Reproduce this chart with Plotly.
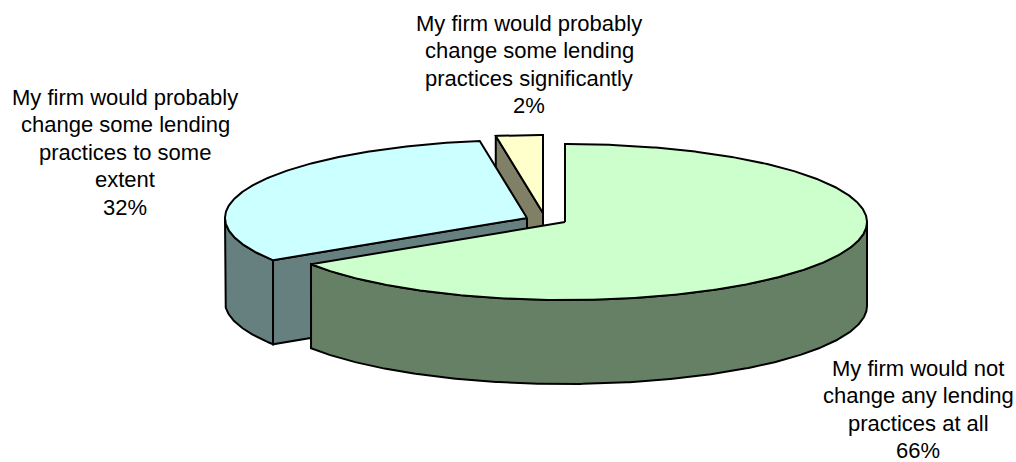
import math
import plotly.graph_objects as go

categories = ["My firm would not change any lending practices at all",
              "My firm would probably change some lending practices to some extent",
              "My firm would probably change some lending practices significantly"]
shares = [65.9, 31.6, 2.5]
shown_percent = ["66%", "32%", "2%"]
label_lines = [["My firm would not", "change any lending", "practices at all"],
               ["My firm would probably", "change some lending", "practices to some", "extent"],
               ["My firm would probably", "change some lending", "practices significantly"]]

RX, RY, DEPTH = 302, 78, 84
centers = [(565, 222), (527, 218), (543, 213)]
label_pos = [(918, 368), (125, 97), (529, 23)]
LINE_H = 27.5
FONT = "Liberation Sans, Arial, sans-serif"
tops = ["#CCFFCC", "#CCFFFF", "#FFFFCC"]
sides = ["#668066", "#668080", "#808066"]

def pt(c, deg, drop=0):
    r = math.radians(deg)
    return c[0] + RX * math.sin(r), c[1] - RY * math.cos(r) + drop

def arc(c, a, b, drop=0):
    n = max(2, int(abs(b - a) * 2))
    return [pt(c, a + (b - a) * i / n, drop) for i in range(n + 1)]

def poly(points, color):
    xs, ys = zip(*points)
    return go.Scatter(x=list(xs) + [xs[0]], y=list(ys) + [ys[0]], mode="lines", fill="toself",
                      fillcolor=color, line=dict(color="black", width=2),
                      hoverinfo="skip", showlegend=False)

# slice angles, clockwise from 12 o'clock
starts, a = [], 0.0
for s in shares:
    starts.append(a)
    a += s * 3.6
ends = [st + s * 3.6 for st, s in zip(starts, shares)]

fig = go.Figure()
g, b, y = centers

def radial_wall(c, deg):
    return [c, pt(c, deg), pt(c, deg, DEPTH), (c[0], c[1] + DEPTH)]

# yellow slice
fig.add_trace(poly(radial_wall(y, starts[2]), sides[2]))
fig.add_trace(poly([y] + arc(y, starts[2], ends[2]), tops[2]))
# blue slice
fig.add_trace(poly(arc(b, starts[1], 270) + arc(b, 270, starts[1], DEPTH), sides[1]))
fig.add_trace(poly(radial_wall(b, starts[1]), sides[1]))
fig.add_trace(poly([b] + arc(b, starts[1], ends[1]), tops[1]))
# green slice
fig.add_trace(poly(arc(g, 90, ends[0]) + arc(g, ends[0], 90, DEPTH), sides[0]))
fig.add_trace(poly([g] + arc(g, starts[0], ends[0]), tops[0]))

for lines, pct, (lx, ly) in zip(label_lines, shown_percent, label_pos):
    for i, t in enumerate(lines + [pct]):
        fig.add_annotation(x=lx, y=ly + i * LINE_H, text=t, showarrow=False, xanchor="center",
                           yanchor="middle", font=dict(family=FONT, size=22, color="black"))

fig.update_layout(width=1016, height=462, margin=dict(l=0, r=0, t=0, b=0),
                  paper_bgcolor="white", plot_bgcolor="white", showlegend=False,
                  xaxis=dict(range=[0, 1016], visible=False, fixedrange=True),
                  yaxis=dict(range=[462, 0], visible=False, fixedrange=True))
fig.write_html("out.html", config={"displayModeBar": False},
               post_script="document.body.style.margin='0';document.body.style.overflow='hidden';")
